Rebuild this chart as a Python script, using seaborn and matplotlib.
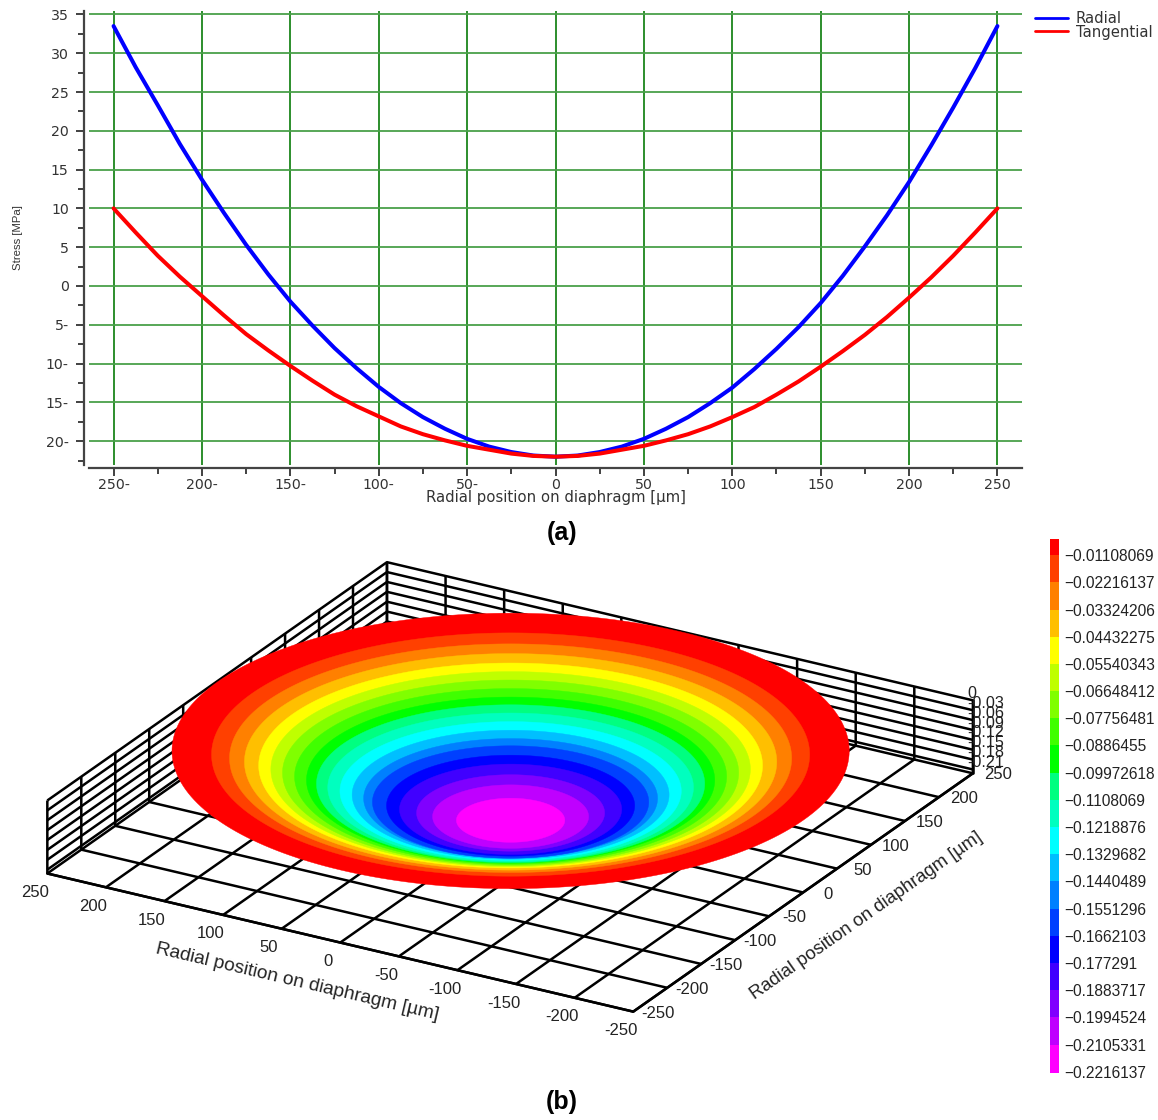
import matplotlib
matplotlib.use("Agg")
import matplotlib.pyplot as plt
import numpy as np
import pandas as pd
import seaborn as sns
from matplotlib.colors import ListedColormap, BoundaryNorm
from mpl_toolkits.mplot3d.art3d import Poly3DCollection

# Data for the stress plot
positions = [-250, -237.5, -225, -212.5, -200, -187.5, -175, -162.5, -150, -137.5, -125, -112.5, -100,
             -87.5, -75, -62.5, -50, -37.5, -25, -12.5, 0,
             12.5, 25, 37.5, 50, 62.5, 75, 87.5, 100, 112.5, 125, 137.5, 150, 162.5, 175, 187.5, 200,
             212.5, 225, 237.5, 250]
radialStress = [33.5, 28.2, 23.3, 18.3, 13.7, 9.4, 5.3, 1.5, -2.0, -5.1, -8.0, -10.6, -13.0,
                -15.1, -16.9, -18.4, -19.7, -20.7, -21.4, -21.85, -22.0,
                -21.85, -21.4, -20.7, -19.7, -18.4, -16.9, -15.1, -13.1, -10.7, -8.1, -5.3, -2.2, 1.3, 5.1, 9.1, 13.4,
                18.1, 23.0, 28.1, 33.5]
tangentialStress = [10.0, 6.9, 3.9, 1.2, -1.3, -3.8, -6.2, -8.3, -10.3, -12.2, -14.0, -15.5, -16.8,
                    -18.1, -19.1, -19.9, -20.6, -21.1, -21.6, -21.9, -22.0,
                    -21.9, -21.6, -21.1, -20.6, -19.9, -19.1, -18.1, -16.9, -15.6, -14.0, -12.3, -10.4, -8.4, -6.3, -4.0, -1.5,
                    1.1, 3.9, 6.9, 10.0]
stressTicks = [35, 30, 25, 20, 15, 10, 5, 0, -5, -10, -15, -20]
stressTickLabels = ["35", "30", "25", "20", "15", "10", "5", "0", "5-", "10-", "15-", "20-"]
positionTicks = [-250, -200, -150, -100, -50, 0, 50, 100, 150, 200, 250]
positionTickLabels = ["250-", "200-", "150-", "100-", "50-", "0", "50", "100", "150", "200", "250"]

# Data for the deflection map: colour bar levels and where each band starts on the disk
levels = [-0.01108069, -0.02216137, -0.03324206, -0.04432275, -0.05540343, -0.06648412,
          -0.07756481, -0.0886455, -0.09972618, -0.1108069, -0.1218876, -0.1329682,
          -0.1440489, -0.1551296, -0.1662103, -0.177291, -0.1883717, -0.1994524,
          -0.2105331, -0.2216137]
levelLabels = ["\u22120.01108069", "\u22120.02216137", "\u22120.03324206", "\u22120.04432275",
               "\u22120.05540343", "\u22120.06648412", "\u22120.07756481", "\u22120.0886455",
               "\u22120.09972618", "\u22120.1108069", "\u22120.1218876", "\u22120.1329682",
               "\u22120.1440489", "\u22120.1551296", "\u22120.1662103", "\u22120.177291",
               "\u22120.1883717", "\u22120.1994524", "\u22120.2105331", "\u22120.2216137"]
bandColors = ["#ff0000", "#ff4000", "#ff8000", "#ffbf00", "#ffff00", "#bfff00", "#80ff00",
              "#40ff00", "#00ff00", "#00ff80", "#00ffbf", "#00ffff", "#00bfff", "#0080ff",
              "#0040ff", "#0000ff", "#4000ff", "#8000ff", "#bf00ff", "#ff00ff"]
bandRadii = [250, 220.8, 207.5, 196.5, 186, 177, 168.4, 159.5, 150.7, 143.3,
             135, 126, 117, 108.5, 102, 91.6, 82, 69.4, 57.6, 40]
bandDepths = [0] + levels[:-1]
planTicks = [-250, -200, -150, -100, -50, 0, 50, 100, 150, 200, 250]
depthTicks = [0, -0.03, -0.06, -0.09, -0.12, -0.15, -0.18, -0.21]
depthTickLabels = ["0", "-0.03", "-0.06", "-0.09", "-0.12", "-0.15", "-0.18", "-0.21"]

sns.set_theme(style="white")
plt.rcParams["font.family"] = ["DejaVu Sans"]

figW, figH = 1158, 1120
fig = plt.figure(figsize=(figW / 100, figH / 100), dpi=100)


# Turns reference pixel edges into a figure rectangle
def pxRect(left, top, right, bottom):
    return [left / figW, 1 - bottom / figH, (right - left) / figW, (bottom - top) / figH]


# (b) deflection map, added first so the top plot stays above its empty corners
ax3d = fig.add_axes(pxRect(31, 333, 964, 1266), projection="3d", facecolor="none")
ax3d.set_proj_type("ortho")
ax3d.view_init(elev=24, azim=-59.9)
ax3d.set_box_aspect((1, 1, 0.118))
ax3d.computed_zorder = False
ax3d.set_xlim(250, -250, view_margin=0)
ax3d.set_ylim(-250, 250, view_margin=0)
ax3d.set_zlim(-0.2216137, 0, view_margin=0)

angle = np.linspace(0, 2 * np.pi, 241)
for i, (radius, depth, color) in enumerate(zip(bandRadii, bandDepths, bandColors)):
    ring = np.column_stack([radius * np.cos(angle), radius * np.sin(angle), np.full(angle.size, depth)])
    ax3d.add_collection3d(Poly3DCollection([ring], facecolors=color, edgecolors=color,
                                           linewidths=0.3, zorder=10 + i))

ax3d.set_xticks(planTicks)
ax3d.set_xticklabels([str(t) for t in planTicks], fontsize=12, family="Liberation Sans", color="#222222")
ax3d.set_yticks(planTicks)
ax3d.set_yticklabels([str(t) for t in planTicks], fontsize=12, family="Liberation Sans", color="#222222",
                     va="bottom")
ax3d.set_zticks(depthTicks)
ax3d.set_zticklabels(depthTickLabels, fontsize=11.6, family="Liberation Sans", color="#222222",
                     ha="left", va="bottom")
ax3d.zaxis.set_ticks_position("upper")
ax3d.set_xlabel("Radial position on diaphragm [\u00b5m]", fontsize=13.8, family="Liberation Sans",
                color="#222222", labelpad=23)
ax3d.set_ylabel("Radial position on diaphragm [\u00b5m]", fontsize=13.2, family="Liberation Sans",
                color="#222222", labelpad=17)
ax3d.tick_params(axis="x", pad=5)
ax3d.tick_params(axis="y", pad=7)
ax3d.tick_params(axis="z", pad=-10)
for axis in [ax3d.xaxis, ax3d.yaxis, ax3d.zaxis]:
    axis.set_pane_color((1, 1, 1, 0))
    axis.pane.set_edgecolor("black")
    axis.line.set_color("black")
    axis.line.set_linewidth(1.8)
    axis._axinfo["grid"].update(color="black", linewidth=1.8)
    axis._axinfo["tick"].update(inward_factor=0, outward_factor=0)

# (a) stress plot
ax = fig.add_axes(pxRect(89, 11, 1022, 465))
stressData = pd.DataFrame({
    "position": positions * 2,
    "stress": radialStress + tangentialStress,
    "component": ["Radial"] * len(positions) + ["Tangential"] * len(positions),
})
sns.lineplot(data=stressData, x="position", y="stress", hue="component",
             palette=["#0000ff", "#ff0000"], linewidth=2.9, ax=ax, zorder=5)
ax.set_xlim(-263.9, 263.9)
ax.set_ylim(-23.07, 35.44)
ax.set_xticks(positionTicks)
ax.set_xticklabels(positionTickLabels)
ax.set_yticks(stressTicks)
ax.set_yticklabels(stressTickLabels)
ax.set_xticks([t + 25 for t in positionTicks[:-1]], minor=True)
ax.set_yticks([t - 2.5 for t in stressTicks], minor=True)
ax.grid(True, axis="x", color="#1b861b", linewidth=1.3)
ax.grid(True, axis="y", color="#4aa04a", linewidth=1.3)
ax.set_axisbelow(True)
ax.tick_params(axis="both", which="major", length=6, width=1.3, color="#333333",
               labelsize=10.2, labelcolor="#333333", bottom=True, left=True)
ax.tick_params(axis="y", which="major", pad=5)
ax.tick_params(axis="x", which="major", pad=1)
ax.tick_params(axis="both", which="minor", length=4.5, width=1.3, color="#333333", bottom=True, left=True)
for side in ["top", "right"]:
    ax.spines[side].set_visible(False)
ax.spines["left"].set_position(("outward", 3.6))
ax.spines["bottom"].set_position(("outward", 2.2))
for side in ["left", "bottom"]:
    ax.spines[side].set_color("#444444")
    ax.spines[side].set_linewidth(1.6)
ax.set_xlabel("Radial position on diaphragm [\u00b5m]", fontsize=10.7, color="#333333", labelpad=-1)
ax.set_ylabel("")
fig.text(18 / figW, 1 - 238 / figH, "Stress [MPa]", rotation=90, ha="center", va="center",
         fontsize=8.2, family="Liberation Sans", color="#333333")

legend = ax.legend(loc="upper left", bbox_to_anchor=((1035 - 89) / 933, 1.0), frameon=False, title=None,
                   fontsize=10.7, handlelength=2.2, handletextpad=0.55, labelspacing=-0.1,
                   borderaxespad=0, borderpad=0)
for handle in legend.get_lines():
    handle.set_linewidth(2.0)
for text in legend.get_texts():
    text.set_color("#333333")

# Colour bar next to the map
axBar = fig.add_axes(pxRect(1050, 539, 1059, 1073))
barEdges = [-0.2221] + levels[::-1] + [-0.0045]
barColors = ["#ff00ff"] + bandColors[::-1]
axBar.pcolormesh([0, 1], barEdges, np.arange(len(barColors)).reshape(-1, 1),
                 cmap=ListedColormap(barColors),
                 norm=BoundaryNorm(np.arange(len(barColors) + 1) - 0.5, len(barColors)))
axBar.set_ylim(barEdges[0], barEdges[-1])
axBar.set_xticks([])
axBar.yaxis.tick_right()
axBar.set_yticks(levels)
axBar.set_yticklabels(levelLabels, fontsize=11.2, family="Liberation Sans", color="#222222")
axBar.tick_params(axis="y", length=0, pad=4)
sns.despine(ax=axBar, left=True, bottom=True, right=True, top=True)

fig.text(562 / figW, 1 - 533 / figH, "(a)", ha="center", va="center", fontsize=18,
         fontweight="bold", family="Liberation Sans", color="black")
fig.text(562 / figW, 1 - 1102 / figH, "(b)", ha="center", va="center", fontsize=18,
         fontweight="bold", family="Liberation Sans", color="black")

fig.savefig("out.png", dpi=100)
